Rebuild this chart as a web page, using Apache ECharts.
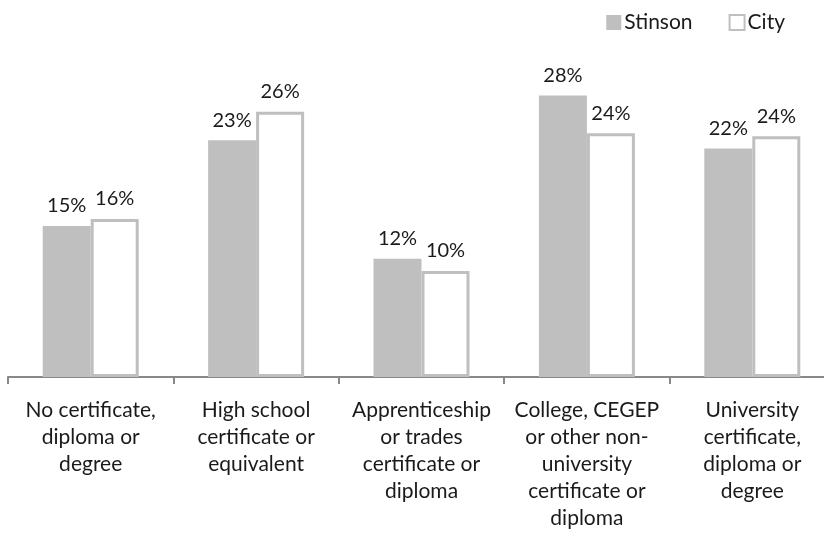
<!DOCTYPE html>
<html>
<head>
<meta charset="utf-8">
<script src="https://cdn.jsdelivr.net/npm/echarts@6/dist/echarts.min.js"></script>
<style>html,body{margin:0;padding:0;background:#fff}#c{width:824px;height:540px}</style>
</head>
<body>
<div id="c"></div>
<script>
const categories = [
  "No certificate,\ndiploma or\ndegree",
  "High school\ncertificate or\nequivalent",
  "Apprenticeship\nor trades\ncertificate or\ndiploma",
  "College, CEGEP\nor other non-\nuniversity\ncertificate or\ndiploma",
  "University\ncertificate,\ndiploma or\ndegree"
];
const stinson = [14.8, 23.2, 11.6, 27.6, 22.4];
const city = [15.5, 26.0, 10.4, 23.9, 23.6];
const seriesNames = ["Stinson", "City"];

const FONT = "Lato";
const TXT = "#1a1a1a";
const GRAY = "#BFBFBF";

const chart = echarts.init(document.getElementById('c'), null, {renderer: 'canvas'});
const labelCfg = {
  show: true, position: 'top', distance: 10,
  fontFamily: FONT, fontSize: 20, color: TXT,
  formatter: p => Math.round(p.value) + '%'
};
chart.setOption({
  animation: false,
  backgroundColor: '#fff',
  textStyle: {fontFamily: FONT},
  legend: {
    right: 34, top: 7,
    itemWidth: 15, itemHeight: 15, itemGap: 36,
    textStyle: {fontFamily: FONT, fontSize: 21, color: TXT, padding: [0,0,0,-2]},
    data: [
      {name: seriesNames[0], icon: 'rect'},
      {name: seriesNames[1], icon: 'rect'}
    ]
  },
  grid: {left: 8, width: 827, top: 71, bottom: 163, containLabel: false, outerBoundsMode: 'none'},
  xAxis: {
    type: 'category', data: categories,
    axisLine: {lineStyle: {color: '#888', width: 2}},
    axisTick: {show: true, length: 7, lineStyle: {color: '#888', width: 2}},
    axisLabel: {interval: 0, margin: 20, fontFamily: FONT, fontSize: 21, lineHeight: 27, color: TXT, align: 'center'}
  },
  yAxis: {type: 'value', min: 0, max: 30, show: false, splitLine: {show: false}},
  series: [
    {
      name: seriesNames[0], type: 'bar', data: stinson,
      barWidth: 48, barGap: '0%',
      itemStyle: {color: GRAY},
      label: labelCfg
    },
    {
      name: seriesNames[1], type: 'bar', data: city,
      barWidth: 48, barGap: '0%',
      itemStyle: {color: '#fff', borderColor: GRAY, borderWidth: 3},
      label: labelCfg
    }
  ]
});
</script>
</body>
</html>
